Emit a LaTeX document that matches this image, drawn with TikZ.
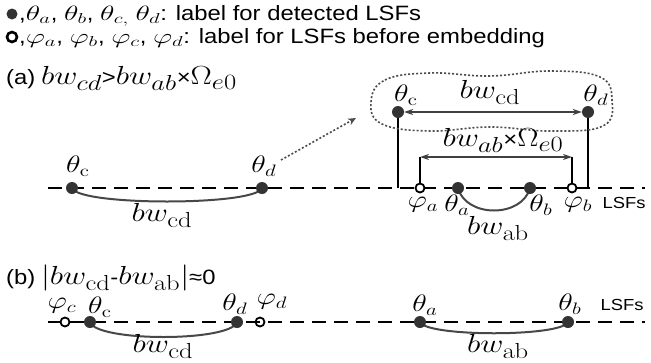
\documentclass[tikz,border=0pt]{standalone}
\usepackage[no-math]{fontspec}
\setmainfont{Liberation Sans}
\usetikzlibrary{arrows.meta,backgrounds}
\newcommand{\hs}[1]{\scalebox{1.15}[1]{#1}}
\newcommand{\mth}[1]{\scalebox{1.45}[1.15]{#1}}
\newcommand{\msm}[1]{\scalebox{1.25}[1]{#1}}
\newcommand{\mbig}[1]{{\fontsize{24.88}{25}\selectfont\scalebox{1.28}[1.05]{#1}}}
\begin{document}
\begin{tikzpicture}[x=1pt,y=-1pt,
  det/.style={circle,fill=black!80,inner sep=0pt,minimum size=12pt},
  emb/.style={circle,draw=black,line width=1.8pt,fill=white,inner sep=0pt,minimum size=9pt},
  embx/.style={circle,draw=black,line width=1.8pt,inner sep=0pt,minimum size=9pt},
  axisline/.style={line width=1.8pt,dash pattern=on 14pt off 8pt},
  arcline/.style={draw=black!72,line width=2pt},
  lbl/.style={inner sep=0pt,font=\fontsize{20.74}{21}\selectfont},
  big/.style={inner sep=0pt,font=\fontsize{24.88}{25}\selectfont},
  txt/.style={inner sep=0pt,anchor=base west,font=\fontsize{20.74}{25}\selectfont},
  small/.style={inner sep=0pt,font=\fontsize{16}{16}\selectfont},
  bar/.style={line width=1.8pt},
  dim/.style={draw=black!75,line width=1.6pt,{Stealth[length=9pt,width=6pt]}-{Stealth[length=9pt,width=6pt]}},
  dots/.style={draw=black!70,line width=1.6pt,dash pattern=on 2pt off 2pt},
]
\useasboundingbox (0,0) rectangle (651,362);

% legend
\node[det,minimum size=11pt] (leg1) at (12,14) {};
\node[txt] (legt1) at (19,20) {\hs{,\msm{$\theta_a$}, \msm{$\theta_b$}, \msm{$\theta_{c,}$} \msm{$\theta_d$}: label for detected LSFs}};
\node[emb,line width=2.6pt,minimum size=10pt] (leg2) at (12,37) {};
\node[txt] (legt2) at (19,43) {\hs{,\msm{$\varphi_a$}, \msm{$\varphi_b$}, \msm{$\varphi_c$}, \msm{$\varphi_d$}: label for LSFs before embedding}};

% titles
\node[txt] (ta) at (6,84) {\hs{(a)} \mbig{$bw_{cd}$}\hs{>}\mbig{$bw_{ab}$}\hs{×}\mbig{$\Omega_{e0}$}};
\node[txt] (tb) at (6,284) {\hs{(b)} \mbig{$|bw_{\mathrm{cd}}$}\hs{-}\mbig{$bw_{\mathrm{ab}}|$}\hs{≈0}};

% axes
\coordinate (axA1) at (48,188); \coordinate (axA2) at (645,188);
\coordinate (axB1) at (48,322); \coordinate (axB2) at (645,322);

% ---- part (a), left
\node[det] (cA) at (72,188) {};
\node[det] (dA) at (262,188) {};
\node[lbl] (lcA) at (78,166) {\mth{$\theta_{\mathrm{c}}$}};
\node[lbl] (ldA) at (264,166) {\mth{$\theta_d$}};
\node[big] (bwA) at (162,215) {\mbig{$bw_{\mathrm{cd}}$}};

% dotted arrow
\coordinate (arS) at (281,160); \coordinate (arE) at (356,118);
\draw[dots,-{Stealth[length=8pt,width=7pt]}] (arS) -- (arE);

% dotted blob
\draw[dots] plot[smooth cycle,tension=0.7] coordinates {(371,102) (385,80) (430,73) (490,76) (550,71) (600,77) (612,100) (603,126) (550,131) (490,127) (430,131) (382,124)};

% top pair
\node[det] (cT) at (398,112) {};
\node[det] (dT) at (588,112) {};
\node[lbl] (lcT) at (406,95) {\mth{$\theta_{\mathrm{c}}$}};
\node[lbl] (ldT) at (596,95) {\mth{$\theta_d$}};
\node[big] (bwT) at (490,92) {\mbig{$bw_{\mathrm{cd}}$}};
\draw[dim] (cT) -- (dT);

% inner bracket
\node[emb] (pa) at (420,188) {};
\node[embx] (pb) at (572,188) {};
\coordinate (paT) at (420,157); \coordinate (pbT) at (572,157);
\draw[bar] (pa) -- (paT);
\draw[bar] (pb) -- (pbT);
\draw[dim] (paT) -- (pbT);
\node[lbl] (lab) at (503,140) {\mbig{$bw_{ab}$}\hs{×}\mbig{$\Omega_{e0}$}};

\node[det] (aA) at (458,188) {};
\node[det] (bA) at (530,188) {};
\node[lbl] (lpa) at (423,205) {\mth{$\varphi_a$}};
\node[lbl] (laA) at (457,205) {\mth{$\theta_a$}};
\node[lbl] (lbA) at (541,205) {\mth{$\theta_b$}};
\node[lbl] (lpb) at (578,205) {\mth{$\varphi_b$}};
\node[small] (lsA) at (624,203) {\hs{LSFs}};
\node[big] (bwabA) at (498,228) {\mbig{$bw_{\mathrm{ab}}$}};

% ---- part (b)
\node[emb] (pcB) at (65,322) {};
\node[det] (cB) at (90,322) {};
\node[det] (dB) at (237,322) {};
\node[embx] (pdB) at (260,322) {};
\node[lbl] (lpcB) at (62,306) {\mth{$\varphi_c$}};
\node[lbl] (lcB) at (100,307) {\mth{$\theta_{\mathrm{c}}$}};
\node[lbl] (ldB) at (235,304) {\mth{$\theta_d$}};
\node[lbl] (lpdB) at (272,302) {\mth{$\varphi_d$}};
\node[big] (bwB) at (163,346) {\mbig{$bw_{\mathrm{cd}}$}};

\node[det] (aB) at (420,322) {};
\node[det] (bB) at (568,322) {};
\node[lbl] (laB) at (425,305) {\mth{$\theta_a$}};
\node[lbl] (lbB) at (570,304) {\mth{$\theta_b$}};
\node[small] (lsB) at (622,305) {\hs{LSFs}};
\node[big] (bwabB) at (498,346) {\mbig{$bw_{\mathrm{ab}}$}};

% background lines
\begin{scope}[on background layer]
  \draw[axisline] (axA1) -- (axA2);
  \draw[axisline] (axB1) -- (axB2);
  \draw[arcline] (cA.center) .. controls +(6,18) and +(-6,18) .. (dA.center);
  \draw[arcline] (aA.center) .. controls +(8,30) and +(-8,30) .. (bA.center);
  \draw[arcline] (cB.center) .. controls +(6,20) and +(-6,20) .. (dB.center);
  \draw[arcline] (aB.center) .. controls +(6,15) and +(-6,15) .. (bB.center);
  \draw[bar] (cT.center) -- (cT.center |- axA1);
  \draw[bar] (dT.center) -- (dT.center |- axA1);
\end{scope}
\end{tikzpicture}
\end{document}
